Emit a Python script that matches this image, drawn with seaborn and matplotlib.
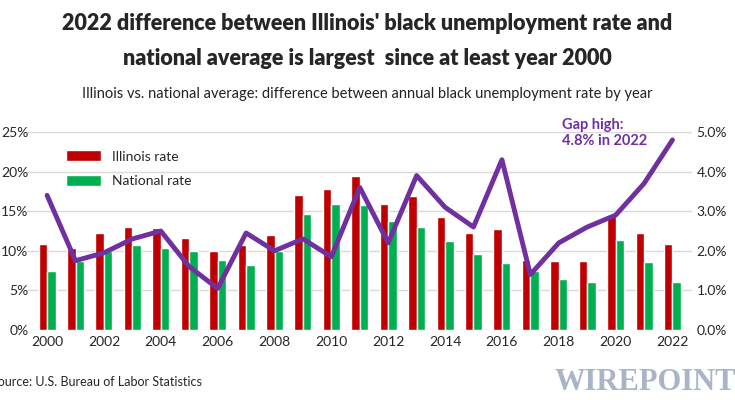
import pandas as pd
import seaborn as sns
import matplotlib.pyplot as plt

years = list(range(2000, 2023))
illinois = [10.9, 10.3, 12.2, 13.0, 12.9, 11.6, 10.0, 10.7, 12.0, 17.1, 17.8, 19.4,
            15.9, 16.9, 14.3, 12.2, 12.7, 8.9, 8.7, 8.7, 14.4, 12.3, 10.9]
national = [7.5, 8.7, 10.0, 10.7, 10.3, 10.0, 8.9, 8.2, 10.0, 14.7, 15.9, 15.8,
            13.8, 13.0, 11.3, 9.6, 8.4, 7.4, 6.4, 6.1, 11.4, 8.6, 6.1]
gap = [3.4, 1.75, 1.95, 2.3, 2.5, 1.6, 1.05, 2.45, 2.0, 2.3, 1.85, 3.6,
       2.2, 3.9, 3.1, 2.6, 4.3, 1.4, 2.2, 2.6, 2.9, 3.7, 4.8]

df = pd.DataFrame({'year': years * 2,
                   'rate': illinois + national,
                   'series': ['Illinois rate'] * len(years) + ['National rate'] * len(years)})

sns.set_style('white')
plt.rcParams['font.family'] = ['Lato', 'DejaVu Sans']

fig = plt.figure(figsize=(7.35, 4.0), dpi=100)
ax = fig.add_axes([0.037, 0.175, 0.905, 0.495])
sns.barplot(data=df, x='year', y='rate', hue='series', palette=['#c00000', '#00b050'],
            width=0.6, gap=0, ax=ax, saturation=1)
ax.set_ylim(0, 25)
ax.set_yticks([0, 5, 10, 15, 20, 25])
ax.set_yticklabels([f'{v}%' for v in [0, 5, 10, 15, 20, 25]], fontsize=10)
ax.set_xticks(range(0, 23, 2))
ax.set_xticklabels([str(y) for y in years[::2]], fontsize=10)
ax.set_xlim(-0.7, 22.7)
ax.set_xlabel('')
ax.set_ylabel('')
ax.grid(axis='y', color='#d9d9d9', lw=1)
ax.set_axisbelow(True)
for s in ax.spines.values():
    s.set_visible(False)
ax.tick_params(axis='y', length=0, pad=-1)
ax.tick_params(axis='x', length=0, pad=4)
ax.legend(loc='upper left', bbox_to_anchor=(0.04, 0.97), frameon=False, fontsize=10,
          handlelength=2.5, handleheight=0.8, labelspacing=0.9)

ax2 = ax.twinx()
ax2.plot(range(len(years)), gap, color='#7030a0', lw=3.5)
ax2.set_ylim(0, 5)
ax2.set_yticks([0, 1, 2, 3, 4, 5])
ax2.set_yticklabels([f'{v:.1f}%' for v in [0, 1, 2, 3, 4, 5]], fontsize=10)
ax2.tick_params(length=0, pad=3)
for s in ax2.spines.values():
    s.set_visible(False)
ax2.text(18.1, 4.6, 'Gap high:\n4.8% in 2022', color='#7030a0', fontsize=10.5,
         fontweight='bold', va='bottom', linespacing=1.2)

fig.text(0.5, 0.925, "2022 difference between Illinois' black unemployment rate and",
         ha='center', fontsize=15.5, fontweight='heavy')
fig.text(0.5, 0.838, "national average is largest  since at least year 2000",
         ha='center', fontsize=15.5, fontweight='heavy')
fig.text(0.5, 0.755, "Illinois vs. national average: difference between annual black unemployment rate by year",
         ha='center', fontsize=10.5, color='#222222')
fig.text(-0.012, 0.035, 'Source: U.S. Bureau of Labor Statistics', fontsize=9)
fig.text(0.755, 0.025, 'WIREPOINTS', fontsize=22, fontweight='bold', family='Liberation Serif',
         color='#a9b4c8')

fig.savefig('out.png', dpi=100)
